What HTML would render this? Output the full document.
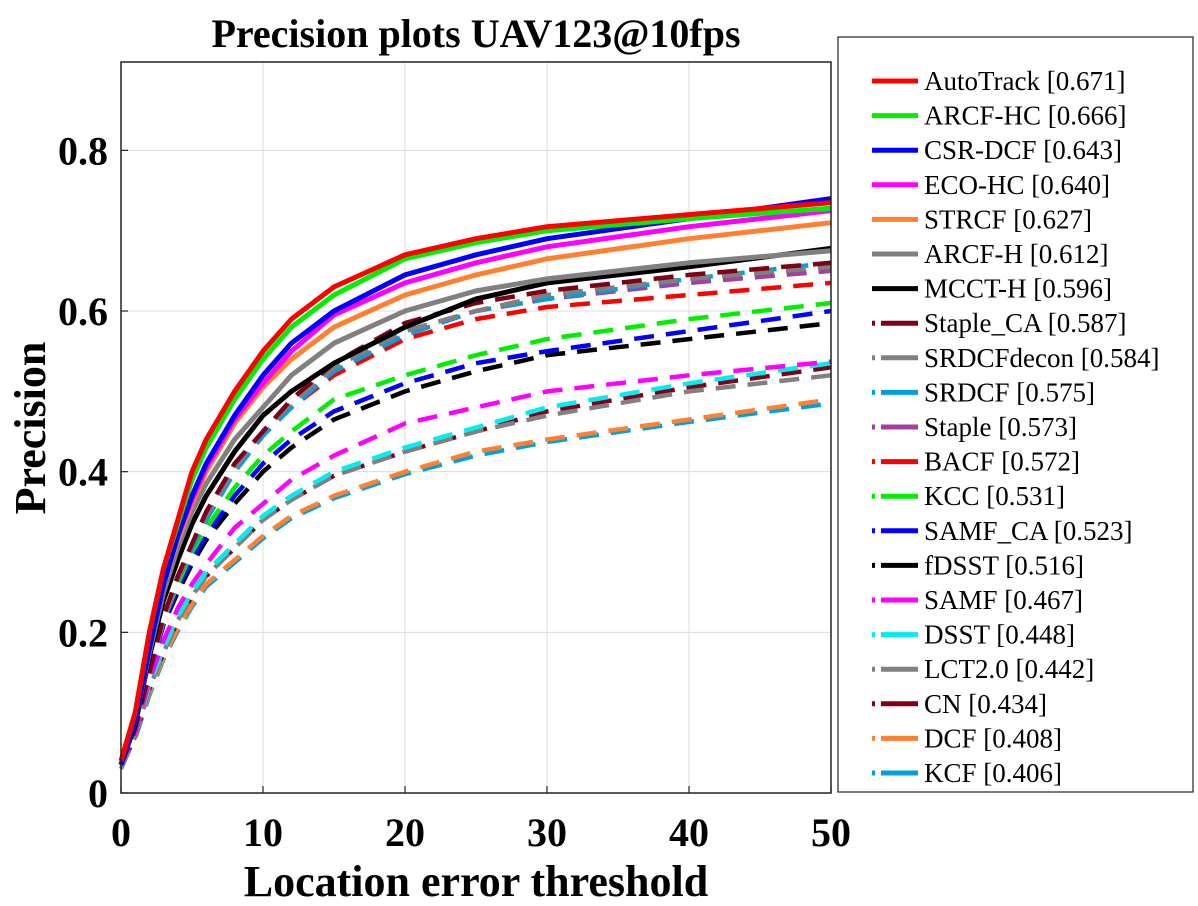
<!DOCTYPE html>
<html><head><meta charset="utf-8"><style>
body{margin:0;background:#fff;}
svg{display:block;font-family:"Liberation Serif",serif;}
</style></head><body>
<svg id="chart" width="1198" height="906" viewBox="0 0 1198 906" xmlns="http://www.w3.org/2000/svg">
<rect width="1198" height="906" fill="#fff"/>
<text x="476" y="47" text-anchor="middle" font-size="40" font-weight="bold">Precision plots UAV123@10fps</text>
<g id="grid"></g>
<g id="series"></g>
<rect x="121" y="62" width="710" height="731" fill="none" stroke="#222" stroke-width="1.5"/>
<g id="ticks"></g>
<text transform="translate(45,428) rotate(-90)" text-anchor="middle" font-size="44" font-weight="bold">Precision</text>
<text x="476" y="896" text-anchor="middle" font-size="44" font-weight="bold">Location error threshold</text>
<rect x="838" y="37" width="355" height="755" fill="#fff" stroke="#222" stroke-width="1.2"/>
<g id="legend"></g>
</svg>
<script>
const thresholds=[0,1,2,3,4,5,6,8,10,12,15,20,25,30,40,50];
const names=["AutoTrack","ARCF-HC","CSR-DCF","ECO-HC","STRCF","ARCF-H","MCCT-H","Staple_CA","SRDCFdecon","SRDCF","Staple","BACF","KCC","SAMF_CA","fDSST","SAMF","DSST","LCT2.0","CN","DCF","KCF"];
const scores=["0.671","0.666","0.643","0.640","0.627","0.612","0.596","0.587","0.584","0.575","0.573","0.572","0.531","0.523","0.516","0.467","0.448","0.442","0.434","0.408","0.406"];
const colors=["#ff0000","#00ee00","#0000ff","#ff00ff","#ff8030","#808080","#000000","#800018","#808080","#00a0e0","#a040a0","#ff0000","#00ee00","#0000ff","#000000","#ff00ff","#00eeee","#808080","#800018","#ff8030","#00a0e0"];
const dashed=[false,false,false,false,false,false,false,true,true,true,true,true,true,true,true,true,true,true,true,true,true];
const values=[
[0.04,0.10,0.20,0.28,0.34,0.40,0.44,0.50,0.55,0.59,0.63,0.67,0.69,0.705,0.72,0.735],
[0.04,0.10,0.20,0.28,0.335,0.39,0.43,0.49,0.54,0.58,0.62,0.665,0.685,0.70,0.715,0.728],
[0.035,0.09,0.18,0.26,0.32,0.37,0.41,0.47,0.52,0.56,0.60,0.645,0.67,0.69,0.715,0.74],
[0.035,0.09,0.18,0.26,0.32,0.365,0.405,0.465,0.51,0.55,0.595,0.635,0.66,0.68,0.705,0.725],
[0.035,0.09,0.18,0.26,0.315,0.36,0.40,0.46,0.505,0.54,0.58,0.62,0.645,0.665,0.69,0.71],
[0.035,0.09,0.175,0.25,0.305,0.35,0.385,0.44,0.48,0.52,0.56,0.60,0.625,0.64,0.66,0.675],
[0.035,0.085,0.17,0.24,0.29,0.335,0.37,0.425,0.47,0.50,0.535,0.58,0.615,0.635,0.655,0.678],
[0.035,0.08,0.15,0.22,0.27,0.31,0.35,0.41,0.45,0.49,0.535,0.585,0.61,0.625,0.645,0.66],
[0.035,0.08,0.15,0.215,0.265,0.31,0.345,0.405,0.45,0.485,0.53,0.575,0.60,0.62,0.64,0.655],
[0.035,0.08,0.15,0.215,0.265,0.305,0.34,0.40,0.445,0.48,0.525,0.57,0.60,0.615,0.64,0.66],
[0.035,0.08,0.15,0.215,0.265,0.305,0.345,0.405,0.45,0.485,0.53,0.575,0.60,0.615,0.635,0.65],
[0.035,0.08,0.15,0.215,0.265,0.305,0.34,0.40,0.445,0.48,0.52,0.565,0.59,0.605,0.62,0.635],
[0.035,0.08,0.15,0.215,0.26,0.30,0.33,0.38,0.42,0.45,0.49,0.52,0.545,0.565,0.59,0.61],
[0.035,0.08,0.15,0.21,0.255,0.29,0.32,0.37,0.41,0.44,0.475,0.51,0.535,0.55,0.575,0.60],
[0.035,0.08,0.15,0.21,0.25,0.285,0.315,0.36,0.40,0.43,0.465,0.50,0.525,0.545,0.565,0.585],
[0.035,0.075,0.14,0.19,0.23,0.26,0.285,0.33,0.36,0.39,0.42,0.46,0.48,0.50,0.52,0.537],
[0.035,0.075,0.135,0.18,0.22,0.25,0.275,0.31,0.345,0.37,0.40,0.43,0.455,0.48,0.51,0.535],
[0.03,0.07,0.13,0.175,0.215,0.245,0.27,0.305,0.34,0.365,0.395,0.425,0.45,0.47,0.50,0.52],
[0.035,0.07,0.13,0.175,0.215,0.245,0.27,0.305,0.34,0.365,0.395,0.425,0.45,0.475,0.505,0.53],
[0.035,0.07,0.125,0.17,0.205,0.235,0.26,0.29,0.32,0.345,0.37,0.40,0.425,0.44,0.465,0.49],
[0.035,0.068,0.122,0.167,0.202,0.232,0.257,0.287,0.317,0.342,0.367,0.397,0.42,0.437,0.462,0.485]
];
const xTicks=[0,10,20,30,40,50];
const yTicks=[0,0.2,0.4,0.6,0.8];
const yTickLabels=["0","0.2","0.4","0.6","0.8"];

const NS="http://www.w3.org/2000/svg";
const X0=121,X1=831,Y0=793,YTOP=62,XMAX=50,YMAX=0.91;
function sx(v){return X0+(v/XMAX)*(X1-X0);}
function sy(v){return Y0-(v/YMAX)*(Y0-YTOP);}
function mk(tag,attrs,parent){const e=document.createElementNS(NS,tag);for(const k in attrs)e.setAttribute(k,attrs[k]);parent.appendChild(e);return e;}
const grid=document.getElementById('grid'),ticks=document.getElementById('ticks'),series=document.getElementById('series'),legend=document.getElementById('legend');
xTicks.forEach((t,i)=>{
  const g=mk('line',{x1:sx(t),x2:sx(t),y1:YTOP,y2:Y0,stroke:'#dcdcdc','stroke-width':1},grid);
  
  
  const tk=mk('line',{x1:sx(t),x2:sx(t),y1:Y0,y2:Y0-7,stroke:'#222','stroke-width':1.2},ticks);
  
  
  const tx=mk('text',{x:sx(t),y:846,'text-anchor':'middle','font-size':40,'font-weight':'bold'},ticks);
  tx.textContent=String(t);
  
  
});
yTicks.forEach((t,i)=>{
  const g=mk('line',{x1:X0,x2:X1,y1:sy(t),y2:sy(t),stroke:'#dcdcdc','stroke-width':1},grid);
  
  
  const tk=mk('line',{x1:X0,x2:X0+7,y1:sy(t),y2:sy(t),stroke:'#222','stroke-width':1.2},ticks);
  
  
  const tx=mk('text',{x:108,y:sy(t)+14,'text-anchor':'end','font-size':40,'font-weight':'bold'},ticks);
  tx.textContent=yTickLabels[i];
  
  
});
for(let s=names.length-1;s>=0;s--){
  const pts=values[s].map((v,i)=>sx(thresholds[i]).toFixed(1)+','+sy(v).toFixed(1)).join(' ');
  const attrs={points:pts,fill:'none',stroke:colors[s],'stroke-width':5,'stroke-linejoin':'round'};
  if(dashed[s]){attrs['stroke-dasharray']='20 12';attrs['stroke-width']=4.5;}
  const p=mk('polyline',attrs,series);
  
  
}
names.forEach((n,i)=>{
  const y=81+i*34.6;
  const la={x1:872,x2:918,y1:y,y2:y,stroke:colors[i],'stroke-width':5};
  if(dashed[i]){la['stroke-dasharray']='3 6 40';}
  const l=mk('line',la,legend);
  
  
  const t=mk('text',{x:924,y:y+9,'font-size':27},legend);
  t.textContent=n+' ['+scores[i]+']';
  
  
});
</script>
</body></html>
